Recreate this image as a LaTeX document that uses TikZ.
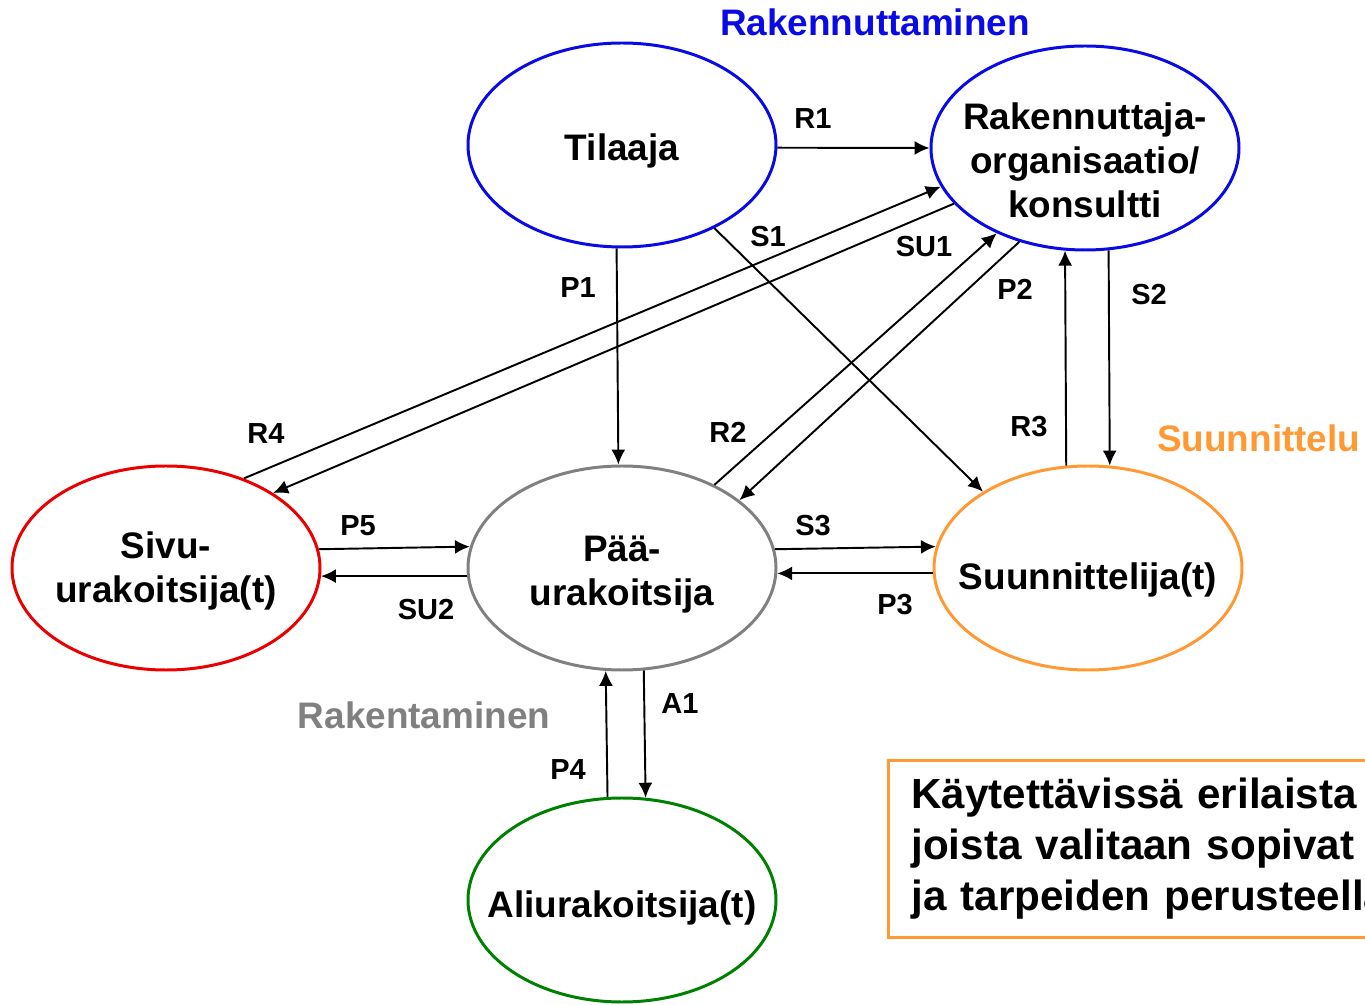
\documentclass[tikz,border=0pt]{standalone}
\usepackage{fontspec}
\setmainfont{Liberation Sans}
\usepackage{tikz}
\usetikzlibrary{shapes.geometric,arrows.meta}

\definecolor{rakblue}{RGB}{10,10,230}
\definecolor{sivured}{RGB}{235,0,0}
\definecolor{paagray}{RGB}{128,128,128}
\definecolor{suunorange}{RGB}{255,153,51}
\definecolor{aligreen}{RGB}{0,128,0}

\tikzset{
  party/.style={ellipse, line width=1.7pt, minimum width=6.16cm, minimum height=4.08cm, inner sep=0pt},
  partytext/.style={align=center, inner sep=0pt, font=\bfseries\fontsize{21}{25}\selectfont},
  lbl/.style={font=\bfseries\fontsize{16.5}{18}\selectfont},
  area/.style={font=\bfseries\fontsize{21}{25}\selectfont},
  flow/.style={black, line width=1.1pt, ->},
  note/.style={draw=suunorange, line width=1.7pt, minimum height=3.54cm, text width=12cm,
    inner xsep=0.46cm, align=left, font=\bfseries\fontsize{24}{29}\selectfont},
}

\begin{document}
\begin{tikzpicture}[>={Latex[length=8.5pt,width=8pt]}]
			\useasboundingbox (0,0) rectangle (27.3,20.08);
			\clip (0,0) rectangle (27.3,20.08);

			% parties
			\node[party, draw=rakblue] (til) at (12.44,17.18) {};
			\node[party, draw=rakblue] (rak) at (21.70,17.12) {};
			\node[party, draw=sivured] (sivu) at (3.32,8.72) {};
			\node[party, draw=paagray] (paa) at (12.44,8.72) {};
			\node[party, draw=suunorange] (suun) at (21.76,8.72) {};
			\node[party, draw=aligreen] (ali) at (12.44,2.08) {};

			\node[partytext] (tilT) at ([yshift=-0.12cm]til) {Tilaaja};
			\node[partytext] (rakT) at ([yshift=-0.24cm]rak) {Rakennuttaja-\\organisaatio/\\konsultti};
			\node[partytext] (sivuT) at ([yshift=-0.05cm]sivu) {Sivu-\\urakoitsija(t)};
			\node[partytext] (paaT) at ([yshift=-0.14cm]paa) {Pää-\\urakoitsija};
			\node[partytext] (suunT) at ([yshift=-0.24cm]suun) {Suunnittelija(t)};
			\node[partytext] (aliT) at ([yshift=-0.16cm]ali) {Aliurakoitsija(t)};

			% areas
			\node[area, text=rakblue] (tRak) at (17.50,19.64) {Rakennuttaminen};
			\node[area, text=suunorange, anchor=west] (tSuun) at (23.02,11.32) {Suunnittelu};
			\node[area, text=paagray] (tRaken) at (8.48,5.78) {Rakentaminen};

			% contracts from the client side
			\draw[flow] (til.-1.5) -- (rak.180.7);
			\draw[flow] (til.267.2) -- (paa.92.8);
			\draw[flow] (til.-42.7) -- (suun.144.5);
			\draw[flow] (sivu.49.4) -- (rak.195);
			\draw[flow] (rak.203.8) -- (sivu.35.6);
			\draw[flow] (paa.42.7) -- (rak.224.7);
			\draw[flow] (rak.235.5) -- (paa.30.7);
			\draw[flow] (suun.102) -- (rak.259.5);
			\draw[flow] (rak.283.1) -- (suun.78.7);

			% contracts between the parties on site
			\draw[flow] (sivu.7.7) -- (paa.172.2);
			\draw[flow] (paa.183.3) -- (sivu.-3.3);
			\draw[flow] (paa.7.8) -- (suun.172.3);
			\draw[flow] (suun.182.2) -- (paa.-2.2);
			\draw[flow] (ali.98.8) -- (paa.261.3);
			\draw[flow] (paa.282.5) -- (ali.77.4);

			% labels
			\node[lbl] (lR1) at (16.26,17.70) {R1};
			\node[lbl] (lP1) at (11.56,14.32) {P1};
			\node[lbl] (lS1) at (15.36,15.34) {S1};
			\node[lbl] (lSU1) at (18.48,15.14) {SU1};
			\node[lbl] (lP2) at (20.30,14.30) {P2};
			\node[lbl] (lS2) at (22.98,14.18) {S2};
			\node[lbl] (lR4) at (5.32,11.40) {R4};
			\node[lbl] (lR2) at (14.56,11.44) {R2};
			\node[lbl] (lR3) at (20.58,11.54) {R3};
			\node[lbl] (lP5) at (7.16,9.56) {P5};
			\node[lbl] (lS3) at (16.26,9.56) {S3};
			\node[lbl] (lSU2) at (8.52,7.88) {SU2};
			\node[lbl] (lP3) at (17.90,7.98) {P3};
			\node[lbl] (lA1) at (13.60,6.00) {A1};
			\node[lbl] (lP4) at (11.36,4.68) {P4};

			% note box
			\node[note, anchor=north west] (note) at (17.74,4.90) {Käytettävissä erilaista\\joista valitaan sopivat\\ja tarpeiden perusteella};

		\end{tikzpicture}
\end{document}
